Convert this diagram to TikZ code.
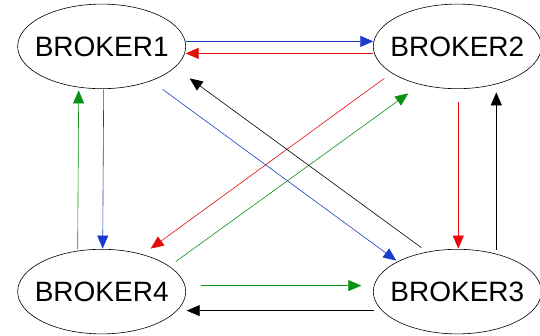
\documentclass[tikz,border=0pt]{standalone}
\usepackage{fontspec}
\setmainfont{Liberation Sans}
\usetikzlibrary{matrix,shapes.geometric,arrows.meta}
\definecolor{linkblue}{RGB}{25,60,205}
\definecolor{linkred}{RGB}{230,10,10}
\definecolor{linkgreen}{RGB}{10,145,20}

\begin{document}
\begin{tikzpicture}[x=1pt,y=-1pt,ampersand replacement=\&,line width=0.6pt,
    >={Triangle[length=13pt,width=11pt]}]
  \useasboundingbox (0,0) rectangle (540,336);
  \matrix(m)[matrix of nodes,row sep=160pt,column sep=187pt,
    nodes={ellipse,draw,inner xsep=-7.5pt,inner ysep=20pt,
      font=\fontsize{28}{30}\selectfont}] at (279.5,169)
  { BROKER1 \& BROKER2 \\
    BROKER4 \& BROKER3 \\};
  % offsets from the centres, y downwards
  \path[->, linkblue]
    ([shift={(84,-5)}]m-1-1.center) edge ([shift={(-84,-5)}]m-1-2.center)
    ([shift={(2,43)}]m-1-1.center) edge ([shift={(1,-43)}]m-2-1.center)
    ([shift={(61,43)}]m-1-1.center) edge ([shift={(-61,-31)}]m-2-2.center);
  \path[->, linkred]
    ([shift={(-84,7)}]m-1-2.center) edge ([shift={(84,7)}]m-1-1.center)
    ([shift={(1,56)}]m-1-2.center) edge ([shift={(1,-43)}]m-2-2.center)
    ([shift={(-73,32)}]m-1-2.center) edge ([shift={(49,-43)}]m-2-1.center);
  \path[->, linkgreen]
    ([shift={(-24,-42)}]m-2-1.center) edge ([shift={(-23,44)}]m-1-1.center)
    ([shift={(99,-6)}]m-2-1.center) edge ([shift={(-96,-6)}]m-2-2.center)
    ([shift={(74,-30)}]m-2-1.center) edge ([shift={(-49,47)}]m-1-2.center);
  \path[->]
    ([shift={(39,-42)}]m-2-2.center) edge ([shift={(39,46)}]m-1-2.center)
    ([shift={(-83,19)}]m-2-2.center) edge ([shift={(85,19)}]m-2-1.center)
    ([shift={(-36,-44)}]m-2-2.center) edge ([shift={(88,32)}]m-1-1.center);
\end{tikzpicture}
\end{document}
